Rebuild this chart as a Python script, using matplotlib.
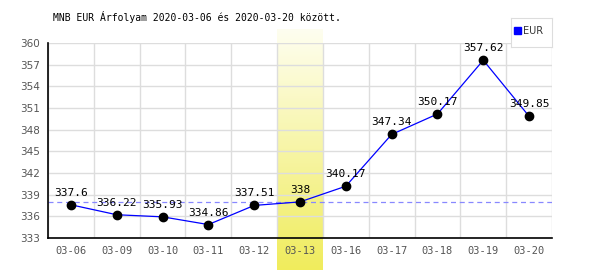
import matplotlib
matplotlib.use("Agg")
import matplotlib.pyplot as plt
import numpy as np
from matplotlib.colors import LinearSegmentedColormap

dates = ["03-06", "03-09", "03-10", "03-11", "03-12", "03-13",
         "03-16", "03-17", "03-18", "03-19", "03-20"]
values = [337.6, 336.22, 335.93, 334.86, 337.51, 338,
          340.17, 347.34, 350.17, 357.62, 349.85]
value_labels = ["337.6", "336.22", "335.93", "334.86", "337.51", "338",
                "340.17", "347.34", "350.17", "357.62", "349.85"]
yticks = [333, 336, 339, 342, 345, 348, 351, 354, 357, 360]
highlight_index = 5
reference_value = 338
title = "MNB EUR Árfolyam 2020-03-06 és 2020-03-20 között."
series_name = "EUR"

fig = plt.figure(figsize=(6, 2.7), dpi=100)
L, R, B, T = 48/600, 552/600, 1 - 238/270, 1 - 43/270
n = len(dates)

# highlight band (gradient), behind main axes
bx0 = L + (R - L) * (highlight_index + 0.0) / n
bx1 = L + (R - L) * (highlight_index + 1.0) / n
btop = 1 - 29/270
bax = fig.add_axes([bx0, 0, bx1 - bx0, btop], zorder=0)
cmap = LinearSegmentedColormap.from_list("yl", ["#fefef0", "#f0ec5c"])
grad = np.linspace(0, 1, 256).reshape(-1, 1)
bax.imshow(grad, aspect="auto", cmap=cmap, origin="upper", extent=[0, 1, 0, 1])
bax.set_axis_off()

ax = fig.add_axes([L, B, R - L, T - B], zorder=1)
ax.patch.set_alpha(0)
x = np.arange(n)
ax.set_xlim(-0.5, n - 0.5)
ax.set_ylim(333, 360)

mono = "DejaVu Sans Mono"
ax.set_yticks(yticks)
ax.set_yticklabels([str(v) for v in yticks], fontsize=7.5, color="#555555", family="DejaVu Sans")
ax.set_xticks(x)
ax.set_xticklabels(dates, fontsize=7.5, color="#555555", family=mono)
ax.tick_params(axis="both", length=0, pad=6)
ax.set_xticks(np.arange(-0.5, n, 1), minor=True)
ax.tick_params(axis="x", which="minor", length=0)
ax.grid(True, axis="y", which="major", color="#dddddd", lw=1)
ax.grid(True, axis="x", which="minor", color="#dddddd", lw=1)
for s in ["top", "right"]:
    ax.spines[s].set_visible(False)
ax.spines["left"].set_color("black")
ax.spines["bottom"].set_color("black")
ax.spines["left"].set_linewidth(1.2)
ax.spines["bottom"].set_linewidth(1.2)

ax.axhline(reference_value, color="#8888ff", lw=0.9, ls=(0, (4, 3)), zorder=2)
ax.plot(x, values, color="#0000ff", lw=0.9, zorder=3)
ax.plot(x, values, "o", color="black", ms=6, zorder=4)
for xi, v, lab in zip(x, values, value_labels):
    ax.annotate(lab, (xi, v), xytext=(0, 5), textcoords="offset points",
                ha="center", va="bottom", fontsize=8, family=mono, zorder=5)

fig.text(53/600, 1 - 17/270, title, fontsize=7, family=mono, va="center", ha="left")

# legend box
lax = fig.add_axes([511/600, 1 - 47/270, 41/600, 29/270], zorder=3)
lax.set_xticks([]); lax.set_yticks([])
for s in lax.spines.values():
    s.set_color("#dddddd")
lax.set_xlim(0, 1); lax.set_ylim(0, 1)
lax.add_patch(plt.Rectangle((0.08, 0.44), 0.17, 0.25, color="#0000ff"))
lax.text(0.3, 0.56, series_name, fontsize=7, va="center", ha="left", color="#333333")

fig.savefig("out.png", dpi=100)
